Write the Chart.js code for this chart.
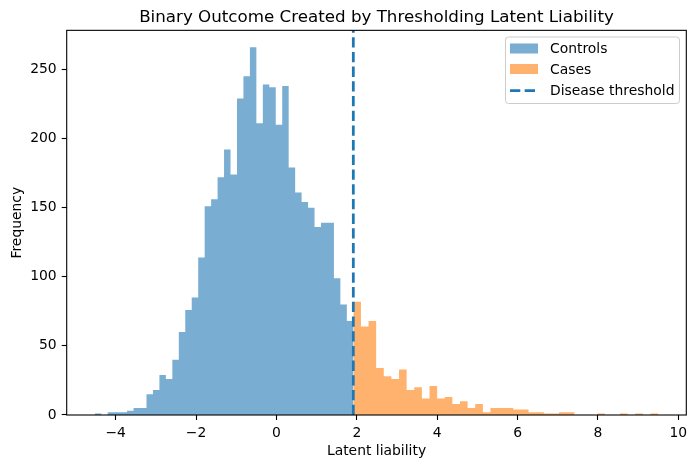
<!DOCTYPE html>
<html>
<head>
<meta charset="utf-8">
<script src="https://cdn.jsdelivr.net/npm/chart.js@4"></script>
<style>
  html, body { margin: 0; padding: 0; background: #fff; }
  #wrap { width: 696px; height: 468px; }
</style>
</head>
<body>
<div id="wrap"><canvas id="histChart" width="696" height="468"></canvas></div>
<script>
// ---- data ----
const controlCounts = [1, 0, 2, 2, 2, 3, 5, 5, 15, 18, 29, 26, 40, 60, 76, 85, 114, 151, 156, 172,
  192, 174, 229, 245, 266, 211, 239, 237, 210, 238, 179, 161, 154, 150, 136, 139, 139, 99, 80, 68];
const caseCounts = [82, 64, 68, 34, 28, 26, 33, 18, 20, 12, 21, 12, 13, 8, 10, 5, 8, 2, 5, 5,
  5, 4, 4, 2, 2, 1, 1, 2, 2, 0, 0, 0, 1, 0, 0, 1, 0, 1, 0, 1];
const controlRange = [-4.52, 1.913];   // first / last bin edge of controls
const caseRange = [1.913, 9.498];      // first / last bin edge of cases
const threshold = 1.913;
const xTicks = [-4, -2, 0, 2, 4, 6, 8, 10];
const yTicks = [0, 50, 100, 150, 200, 250];
const xLimits = [-5.219, 10.199];
const yLimits = [0, 278.25];

// turn counts + bin range into step points (last edge repeats the last count)
function histPoints(counts, range) {
  const w = (range[1] - range[0]) / counts.length;
  const pts = counts.map((c, i) => ({ x: range[0] + i * w, y: c }));
  pts.push({ x: range[1], y: counts[counts.length - 1] });
  return pts;
}

const colors = {
  blue: '#1f77b4',
  controls: 'rgba(31, 119, 180, 0.6)',
  cases: 'rgba(255, 127, 14, 0.6)',
};
const FONT = 'DejaVu Sans';
const dashPattern = [10.3, 4.4];

Chart.defaults.color = '#000';
Chart.defaults.font.family = FONT;

// top/right spines plus the legend box drawn inside the axes
const framePlugin = {
  id: 'frame',
  afterDraw(chart) {
    const { ctx, chartArea: a } = chart;
    ctx.save();
    ctx.strokeStyle = '#000';
    ctx.lineWidth = 1.1;
    ctx.strokeRect(a.left, a.top, a.right - a.left, a.bottom - a.top);

    // legend
    const bx = 505.5, by = 37, bw = 174, bh = 66.5, r = 3;
    ctx.beginPath();
    ctx.roundRect(bx, by, bw, bh, r);
    ctx.fillStyle = 'rgba(255,255,255,0.8)';
    ctx.fill();
    ctx.strokeStyle = '#cccccc';
    ctx.lineWidth = 1;
    ctx.stroke();

    ctx.fillStyle = colors.controls;
    ctx.fillRect(510, 43.5, 28, 10);
    ctx.fillStyle = colors.cases;
    ctx.fillRect(510, 64, 28, 10);

    ctx.beginPath();
    ctx.setLineDash(dashPattern);
    ctx.strokeStyle = colors.blue;
    ctx.lineWidth = 2.78;
    ctx.moveTo(510, 90.7);
    ctx.lineTo(538, 90.7);
    ctx.stroke();
    ctx.setLineDash([]);

    ctx.fillStyle = '#000';
    ctx.font = '13.9px "' + FONT + '"';
    ctx.textBaseline = 'middle';
    ctx.fillText('Controls', 550, 49);
    ctx.fillText('Cases', 550, 70);
    ctx.fillText('Disease threshold', 550, 91);
    ctx.restore();
  },
};

const minusLabel = (v) => (v < 0 ? '\u2212' + Math.abs(v) : String(v));

new Chart(document.getElementById('histChart'), {
  type: 'line',
  data: {
    datasets: [
      {
        label: 'Disease threshold',
        data: [{ x: threshold, y: yLimits[0] }, { x: threshold, y: yLimits[1] }],
        borderColor: colors.blue,
        borderWidth: 2.78,
        borderDash: dashPattern,
        pointRadius: 0,
        fill: false,
        order: 0,
      },
      {
        label: 'Controls',
        data: histPoints(controlCounts, controlRange),
        stepped: true,
        fill: 'origin',
        backgroundColor: colors.controls,
        borderColor: 'rgba(0,0,0,0)',
        borderWidth: 0,
        pointRadius: 0,
        order: 1,
      },
      {
        label: 'Cases',
        data: histPoints(caseCounts, caseRange),
        stepped: true,
        fill: 'origin',
        backgroundColor: colors.cases,
        borderColor: 'rgba(0,0,0,0)',
        borderWidth: 0,
        pointRadius: 0,
        order: 2,
      },
    ],
  },
  options: {
    responsive: false,
    animation: false,
    devicePixelRatio: 1,
    layout: { padding: { left: 0, right: 9.7, top: 0, bottom: 0 } },
    plugins: {
      legend: { display: false },
      tooltip: { enabled: false },
      title: {
        display: true,
        fullSize: false,
        text: 'Binary Outcome Created by Thresholding Latent Liability',
        font: { size: 16.7, weight: 'normal', family: FONT },
        color: '#000',
        padding: { top: 7.5, bottom: 2.8 },
      },
    },
    scales: {
      x: {
        type: 'linear',
        min: xLimits[0],
        max: xLimits[1],
        afterFit: (s) => { s.height = 53; },
        afterBuildTicks: (s) => { s.ticks = xTicks.map((v) => ({ value: v })); },
        ticks: { callback: minusLabel, font: { size: 13.9 }, color: '#000', padding: 5, maxRotation: 0, autoSkip: false },
        grid: { drawOnChartArea: false, drawTicks: true, tickLength: 5, tickColor: '#000', tickWidth: 1.1 },
        border: { display: false },
        title: { display: true, text: 'Latent liability', font: { size: 13.9 }, color: '#000', padding: { top: 0, bottom: 8.5 } },
      },
      y: {
        type: 'linear',
        min: yLimits[0],
        max: yLimits[1],
        afterFit: (s) => { s.width = 66.7; },
        afterBuildTicks: (s) => { s.ticks = yTicks.map((v) => ({ value: v })); },
        ticks: { font: { size: 13.9 }, color: '#000', padding: 5, autoSkip: false },
        grid: { drawOnChartArea: false, drawTicks: true, tickLength: 5, tickColor: '#000', tickWidth: 1.1 },
        border: { display: false },
        title: { display: true, text: 'Frequency', font: { size: 13.9 }, color: '#000', padding: { top: 9.5, bottom: 0 } },
      },
    },
  },
  plugins: [framePlugin],
});
</script>
</body>
</html>
